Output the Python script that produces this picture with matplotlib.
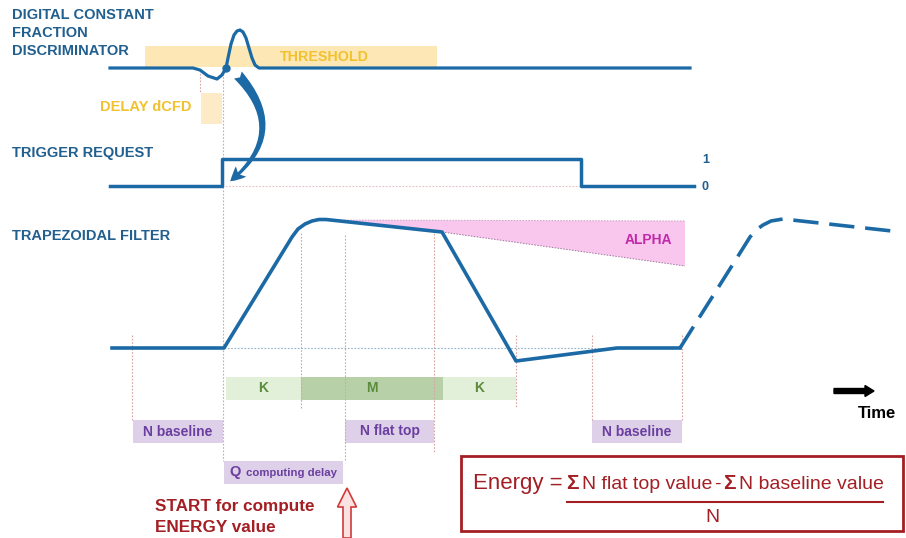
import matplotlib.pyplot as plt
from matplotlib.patches import Rectangle, Polygon, FancyArrowPatch, FancyArrow

# --- diagram data (pixel coordinates of the reference) ---
dcfd_x = [110, 193, 200, 208, 217, 222, 226, 228, 231, 234, 237, 240, 243, 246, 249, 252, 255, 259, 690]
dcfd_y = [68, 68, 70, 76, 79, 75, 68, 58, 44, 35, 31, 30, 32, 38, 48, 58, 65, 68, 68]
zero_cross = (226, 68)

trig_x = [110, 222, 222, 581, 581, 694]
trig_y = [186, 186, 159, 159, 186, 186]
trig_levels = ['1', '0']
trig_level_y = [160, 187]

trap_x = [112, 224, 292, 298, 305, 312, 319, 326, 442, 516, 617, 680]
trap_y = [348, 348, 237, 229, 224, 221, 219.5, 219.5, 232, 361, 348, 348]
next_x = [680, 740, 745, 750, 756, 763, 771, 783, 892]
next_y = [348, 253, 245, 237, 230, 225, 221, 219, 231]

alpha_x = [327, 685, 685, 442]
alpha_y = [220, 221, 266, 232]

kmk_labels = ['K', 'M', 'K']
kmk_start = [226, 301, 443]
kmk_end = [301, 443, 516]
kmk_colors = ['#e2efd9', '#b8d0a8', '#e2efd9']

win_labels = ['N baseline', 'N flat top', 'N baseline']
win_start = [133, 345, 592]
win_end = [223, 434, 682]

vlines_x = [132, 200, 223, 301, 345, 434, 516, 592, 682]
vlines_top = [335, 70, 70, 233, 235, 230, 335, 335, 335]
vlines_bot = [420, 93, 461, 408, 460, 452, 408, 420, 420]

BLUE = '#1b6aa5'
TBLUE = '#215f8f'
YEL = '#f2c12e'
RED = '#a31f24'
PURP = '#6b3fa0'
GREEN = '#5b8c3c'

fig = plt.figure(figsize=(9.06, 5.38), dpi=100)
ax = fig.add_axes([0, 0, 1, 1])
ax.set_xlim(0, 906)
ax.set_ylim(538, 0)
ax.axis('off')

bold = dict(family=['Liberation Sans', 'DejaVu Sans'], fontweight='bold')

# section titles
for txt, y in [('DIGITAL CONSTANT', 15), ('FRACTION', 33), ('DISCRIMINATOR', 51),
               ('TRIGGER REQUEST', 153), ('TRAPEZOIDAL FILTER', 236)]:
    ax.text(12, y, txt, color=TBLUE, fontsize=10.5, va='center', **bold)

# threshold band and delay box
ax.add_patch(Rectangle((145, 46), 292, 21, color='#fde8b5', lw=0, zorder=1))
ax.text(324, 57, 'THRESHOLD', color=YEL, fontsize=10.3, ha='center', va='center', **bold)
ax.add_patch(Rectangle((201, 93), 21, 31, color='#fdebc8', lw=0, zorder=1))
ax.text(146, 107, 'DELAY dCFD', color=YEL, fontsize=10.5, ha='center', va='center', **bold)

# dotted guide lines
for x, y0, y1 in zip(vlines_x, vlines_top, vlines_bot):
    ax.plot([x, x], [y0, y1], color='#d7a3a3', lw=0.8, ls=(0, (1.5, 1.5)), zorder=1)
ax.plot([222, 581], [186, 186], color='#e6c0c0', lw=0.8, ls=(0, (1.5, 1.5)), zorder=1)
ax.plot([224, 680], [348, 348], color='#8fb0c8', lw=0.8, ls=(0, (1.5, 1.5)), zorder=1)

# dCFD signal
ax.plot(dcfd_x, dcfd_y, color=BLUE, lw=2.3, solid_joinstyle='round', zorder=3)
ax.plot(*zero_cross, 'o', color=BLUE, ms=5, zorder=4)

# curved arrow from zero crossing to trigger
arr = FancyArrowPatch((236, 73), (228, 183), connectionstyle='arc3,rad=-0.55',
                      arrowstyle='fancy,head_length=0.7,head_width=0.7,tail_width=0.5',
                      mutation_scale=15, color=BLUE, lw=0, zorder=4)
ax.add_patch(arr)

# trigger request
ax.plot(trig_x, trig_y, color=BLUE, lw=2.5, zorder=3)
for lab, y in zip(trig_levels, trig_level_y):
    ax.text(702, y, lab, color=TBLUE, fontsize=9, va='center', **bold)

# alpha area
ax.add_patch(Polygon(list(zip(alpha_x, alpha_y)), closed=True, color='#f9c6ee', lw=0, zorder=1))
ax.plot([442, 685], [232, 266], color='#9a7a9a', lw=0.7, ls=(0, (1.5, 1.5)), zorder=2)
ax.plot([327, 685], [220, 221], color='#c9a0c0', lw=0.7, ls=(0, (1.5, 1.5)), zorder=2)
ax.text(648, 240, 'ALPHA', color='#c02aa8', fontsize=10, ha='center', va='center', **bold)

# trapezoidal filter output
ax.plot(trap_x, trap_y, color=BLUE, lw=2.6, solid_joinstyle='round', zorder=3)
ax.plot(next_x, next_y, color=BLUE, lw=2.6, ls=(0, (7, 3)), zorder=3)

# K / M / K bars
for lab, x0, x1, c in zip(kmk_labels, kmk_start, kmk_end, kmk_colors):
    ax.add_patch(Rectangle((x0, 377), x1 - x0, 23, color=c, lw=0, zorder=0))
    ax.text((x0 + x1) / 2, 388.5, lab, color=GREEN, fontsize=10, ha='center', va='center', **bold)

# N windows
for lab, x0, x1 in zip(win_labels, win_start, win_end):
    ax.add_patch(Rectangle((x0, 420), x1 - x0, 23, color='#ddd0e8', lw=0, zorder=0))
    ax.text((x0 + x1) / 2, 431.5, lab, color=PURP, fontsize=10, ha='center', va='center', **bold)

# Q computing delay
ax.add_patch(Rectangle((224, 461), 119, 23, color='#ddd0e8', lw=0, zorder=0))
ax.text(229, 472, 'Q', color=PURP, fontsize=10.5, va='center', **bold)
ax.text(246, 473, 'computing delay', color=PURP, fontsize=8.2, va='center', **bold)

# START text and hollow arrow
ax.text(155, 506, 'START for compute', color=RED, fontsize=12.3, va='center', **bold)
ax.text(155, 527, 'ENERGY value', color=RED, fontsize=12.3, va='center', **bold)
ax.add_patch(FancyArrow(347, 538, 0, -50, width=8, head_width=19, head_length=19,
                        length_includes_head=True, fc='#fbe2e2', ec='#d23a3a', lw=1.2, zorder=3))

# time arrow
ax.add_patch(FancyArrow(834, 391, 40, 0, width=5, head_width=11, head_length=9,
                        length_includes_head=True, color='black', zorder=3))
ax.text(877, 413, 'Time', color='black', fontsize=12, ha='center', va='center', **bold)

# energy formula box
ax.add_patch(Rectangle((461, 456), 442, 75, fill=False, ec=RED, lw=2, zorder=3))
plain = dict(family=['Liberation Sans', 'DejaVu Sans'], color=RED)
ax.text(473, 489, 'Energy =', fontsize=16, va='baseline', **plain)
ax.text(566, 489, '\u03a3', fontsize=15, va='baseline', fontweight='bold', **plain)
ax.text(582, 489, 'N flat top value', fontsize=14, va='baseline', **plain)
ax.text(714, 489, '-', fontsize=14, va='baseline', **plain)
ax.text(723, 489, '\u03a3', fontsize=15, va='baseline', fontweight='bold', **plain)
ax.text(739, 489, 'N baseline value', fontsize=14, va='baseline', **plain)
ax.plot([567, 883], [502, 502], color=RED, lw=1.5)
ax.text(712, 517, 'N', fontsize=14, ha='center', va='center', **plain)

fig.savefig('out.png', dpi=100)
